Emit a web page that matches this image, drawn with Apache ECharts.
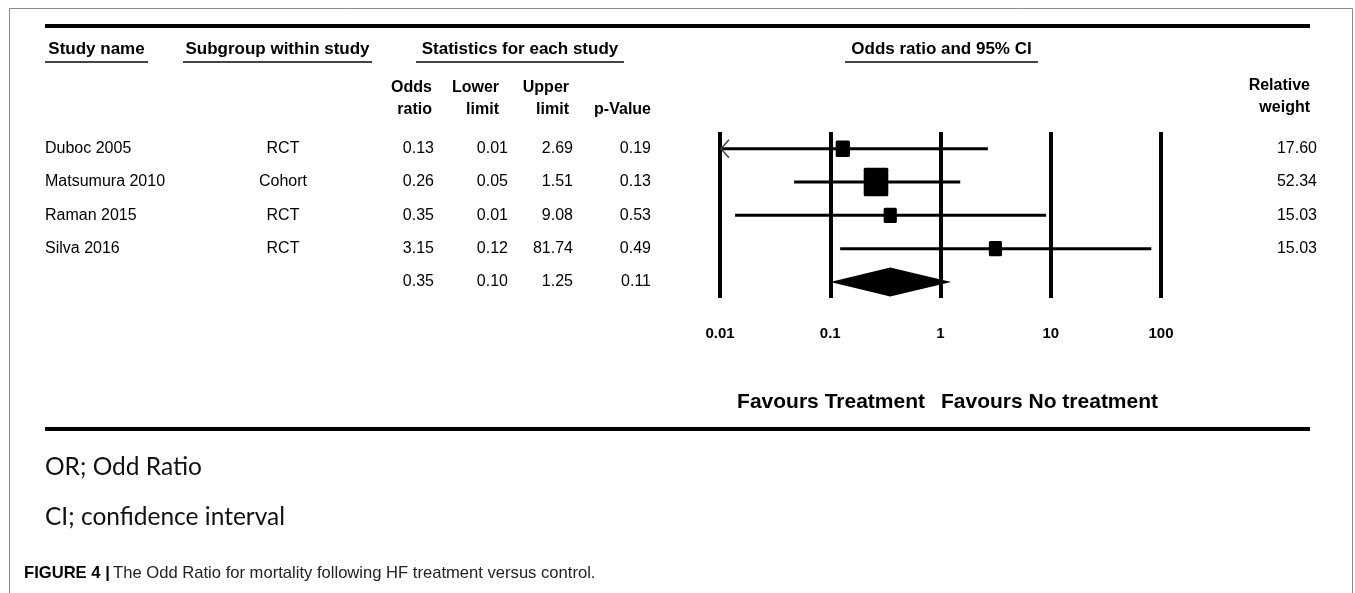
<!DOCTYPE html>
<html>
<head>
<meta charset="utf-8">
<script src="https://cdn.jsdelivr.net/npm/echarts@6/dist/echarts.min.js"></script>
<style>
html,body{margin:0;padding:0;background:#fff;}
#chart{width:1355px;height:593px;}
</style>
</head>
<body>
<div id="chart"></div>
<script>
// ---- data ----
const studies = ['Duboc 2005', 'Matsumura 2010', 'Raman 2015', 'Silva 2016'];
const subgroups = ['RCT', 'Cohort', 'RCT', 'RCT'];
const oddsRatio = [0.13, 0.26, 0.35, 3.15];
const lowerLimit = [0.008, 0.047, 0.0137, 0.123];
const upperLimit = [2.69, 1.51, 9.08, 81.74];
const pValue = [0.19, 0.13, 0.53, 0.49];
const relWeight = [17.60, 52.34, 15.03, 15.03];
const summaryStats = [0.35, 0.10, 1.25, 0.11]; // OR, lower, upper, p
const tickValues = [0.01, 0.1, 1, 10, 100];
const tickLabels = ['0.01', '0.1', '1', '10', '100'];

const chart = echarts.init(document.getElementById('chart'), null, {renderer: 'canvas'});
const FONT = 'Liberation Sans, Arial, sans-serif';
const X_MIN = tickValues[0], X_MAX = tickValues[tickValues.length - 1];

const studyData = studies.map((s, i) => [i, oddsRatio[i], lowerLimit[i], upperLimit[i], relWeight[i]]);
const summaryData = [[studies.length, summaryStats[0], summaryStats[1], summaryStats[2]]];

const option = {
  animation: false,
  backgroundColor: '#fff',
  grid: {left: 720, right: 194, top: 132, bottom: 295},
  xAxis: {
    type: 'log', logBase: 10, min: X_MIN, max: X_MAX,
    axisLine: {show: false}, axisTick: {show: false},
    splitLine: {show: true, showMinLine: true, showMaxLine: true, lineStyle: {color: '#000', width: 4}},
    axisLabel: {
      margin: 28, fontFamily: FONT, fontWeight: 'bold', fontSize: 15, color: '#000',
      showMinLabel: true, showMaxLabel: true,
      formatter: v => { const k = tickValues.findIndex(t => Math.abs(Math.log10(t) - Math.log10(v)) < 1e-6); return k >= 0 ? tickLabels[k] : ''; }
    }
  },
  yAxis: {type: 'value', min: -0.5, max: 4.48, inverse: true, show: false},
  series: [
    {
      type: 'custom', clip: false,
      encode: {x: [1, 2, 3], y: 0},
      data: studyData,
      renderItem: (params, api) => {
        const row = api.value(0), or = api.value(1), lo = api.value(2), hi = api.value(3), w = api.value(4);
        const pLo = api.coord([Math.max(lo, X_MIN), row]);
        const pHi = api.coord([Math.min(hi, X_MAX), row]);
        const pOr = api.coord([or, row]);
        const sw = 3.4 * Math.sqrt(w), sh = 3.95 * Math.sqrt(w);
        const children = [
          {type: 'line', shape: {x1: pLo[0], y1: pLo[1], x2: pHi[0], y2: pHi[1]}, style: {stroke: '#000', lineWidth: 3}},
          {type: 'rect', shape: {x: pOr[0] - sw / 2, y: pOr[1] - sh / 2, width: sw, height: sh, r: 1.5}, style: {fill: '#000'}}
        ];
        if (lo < X_MIN) {
          children.push({type: 'polyline', shape: {points: [[pLo[0] + 9, pLo[1] - 9], [pLo[0] + 1, pLo[1]], [pLo[0] + 9, pLo[1] + 9]]}, style: {stroke: '#444', lineWidth: 1.5, fill: null}});
        }
        return {type: 'group', children};
      }
    },
    {
      type: 'custom', clip: false,
      encode: {x: [1, 2, 3], y: 0},
      data: summaryData,
      renderItem: (params, api) => {
        const row = api.value(0);
        const pOr = api.coord([api.value(1), row]);
        const pLo = api.coord([api.value(2), row]);
        const pHi = api.coord([api.value(3), row]);
        const h = 29;
        return {type: 'polygon', shape: {points: [[pLo[0], pLo[1]], [pOr[0], pOr[1] - h / 2], [pHi[0], pHi[1]], [pOr[0], pOr[1] + h / 2]]}, style: {fill: '#000'}};
      }
    }
  ]
};
chart.setOption(option);

// ---- table text aligned to the plot rows ----
const rowY = i => chart.convertToPixel({gridIndex: 0}, [1, i])[1];
const txt = (x, y, text, align, opts) => Object.assign({
  type: 'text', x, y,
  style: Object.assign({text, fill: '#000', font: '16px ' + FONT, textAlign: align, textVerticalAlign: 'middle'}, opts || {})
});
const bold = (size) => ({font: 'bold ' + size + 'px ' + FONT});
const g = [];

// frame & rules
g.push({type: 'rect', shape: {x: 9.5, y: 8.5, width: 1343, height: 600}, style: {fill: null, stroke: '#8a8a8a', lineWidth: 1}});
g.push({type: 'line', shape: {x1: 45, y1: 26, x2: 1310, y2: 26}, style: {stroke: '#000', lineWidth: 4}});
g.push({type: 'line', shape: {x1: 45, y1: 429, x2: 1310, y2: 429}, style: {stroke: '#000', lineWidth: 4}});

// group headers with underline
const headers = [
  {t: 'Study name', x1: 45, x2: 148},
  {t: 'Subgroup within study', x1: 183, x2: 372},
  {t: 'Statistics for each study', x1: 416, x2: 624},
  {t: 'Odds ratio and 95% CI', x1: 845, x2: 1038}
];
headers.forEach(h => {
  g.push(txt((h.x1 + h.x2) / 2, 49, h.t, 'center', bold(17)));
  g.push({type: 'line', shape: {x1: h.x1, y1: 62, x2: h.x2, y2: 62}, style: {stroke: '#444', lineWidth: 2}});
});

// column sub-headers
const colRight = {or: 434, lo: 508, hi: 573, p: 651, w: 1317};
[['Odds', 'ratio', 432], ['Lower', 'limit', 499], ['Upper', 'limit', 569]].forEach(c => {
  g.push(txt(c[2], 88, c[0], 'right', bold(16)));
  g.push(txt(c[2], 110, c[1], 'right', bold(16)));
});
g.push(txt(651, 110, 'p-Value', 'right', bold(16)));
g.push(txt(1310, 86, 'Relative', 'right', bold(16)));
g.push(txt(1310, 108, 'weight', 'right', bold(16)));

// study rows
studies.forEach((s, i) => {
  const y = rowY(i);
  g.push(txt(45, y, s, 'left'));
  g.push(txt(283, y, subgroups[i], 'center'));
  g.push(txt(colRight.or, y, oddsRatio[i].toFixed(2), 'right'));
  g.push(txt(colRight.lo, y, lowerLimit[i].toFixed(2), 'right'));
  g.push(txt(colRight.hi, y, upperLimit[i].toFixed(2), 'right'));
  g.push(txt(colRight.p, y, pValue[i].toFixed(2), 'right'));
  g.push(txt(colRight.w, y, relWeight[i].toFixed(2), 'right'));
});
// summary row
const ys = rowY(studies.length);
g.push(txt(colRight.or, ys, summaryStats[0].toFixed(2), 'right'));
g.push(txt(colRight.lo, ys, summaryStats[1].toFixed(2), 'right'));
g.push(txt(colRight.hi, ys, summaryStats[2].toFixed(2), 'right'));
g.push(txt(colRight.p, ys, summaryStats[3].toFixed(2), 'right'));

// favours labels
g.push(txt(925, 402, 'Favours Treatment', 'right', bold(21)));
g.push(txt(941, 402, 'Favours No treatment', 'left', bold(21)));

// footnotes
g.push(txt(45, 467, 'OR; Odd Ratio', 'left', {font: '24.5px Lato, "Open Sans", sans-serif', fill: '#111'}));
g.push(txt(45, 517, 'CI; confidence interval', 'left', {font: '24.5px Lato, "Open Sans", sans-serif', fill: '#111'}));

// caption
g.push({type: 'text', x: 24, y: 573, style: {
  text: '{b|FIGURE 4 |} {n|The Odd Ratio for mortality following HF treatment versus control.}',
  textVerticalAlign: 'middle',
  rich: {
    b: {font: 'bold 16.6px ' + FONT, fill: '#000'},
    n: {font: '16.6px ' + FONT, fill: '#222'}
  }
}});

chart.setOption({graphic: {elements: g}});
</script>
</body>
</html>
